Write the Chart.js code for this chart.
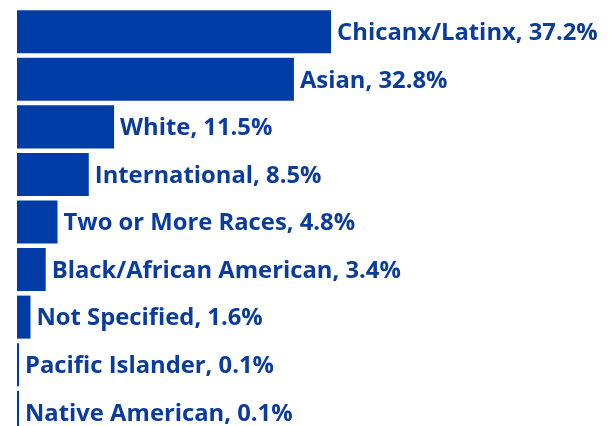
<!DOCTYPE html>
<html>
<head>
<meta charset="utf-8">
<script src="https://cdn.jsdelivr.net/npm/chart.js@4"></script>
<style>
html,body{margin:0;padding:0;background:#fff;overflow:hidden;width:612px;height:426px;}
#wrap{position:absolute;left:0;top:0;width:612px;height:440px;}
</style>
</head>
<body>
<div id="wrap"><canvas id="c" width="612" height="440"></canvas></div>
<script>
const categories = ["Chicanx/Latinx","Asian","White","International","Two or More Races","Black/African American","Not Specified","Pacific Islander","Native American"];
const percents = [37.2,32.8,11.5,8.5,4.8,3.4,1.6,0.1,0.1];

const BAR = '#003CA6';
const TXT = '#0A3C9C';

const labelPlugin = {
  id: 'barLabels',
  afterDatasetsDraw(chart) {
    const ctx = chart.ctx;
    const meta = chart.getDatasetMeta(0);
    ctx.save();
    ctx.font = 'bold 23.8px "Open Sans", sans-serif';
    ctx.fillStyle = TXT;
    ctx.textBaseline = 'middle';
    ctx.textAlign = 'left';
    meta.data.forEach((bar, i) => {
      const end = Math.max(bar.x, bar.base + 2);
      ctx.fillText(categories[i] + ', ' + percents[i].toFixed(1) + '%', end + 6, bar.y + 1.5);
    });
    ctx.restore();
  }
};

new Chart(document.getElementById('c'), {
  type: 'bar',
  data: {
    labels: categories,
    datasets: [{
      data: percents,
      backgroundColor: BAR,
      borderWidth: 0,
      barPercentage: 0.905,
      categoryPercentage: 1.0,
      minBarLength: 2
    }]
  },
  options: {
    indexAxis: 'y',
    responsive: false,
    animation: false,
    events: [],
    layout: { padding: { left: 17, right: 4, top: 8, bottom: 4 } },
    plugins: { legend: { display: false }, tooltip: { enabled: false }, title: { display: false } },
    scales: {
      x: { display: false, min: 0, max: 70 },
      y: { display: false }
    }
  },
  plugins: [labelPlugin]
});
</script>
</body>
</html>
